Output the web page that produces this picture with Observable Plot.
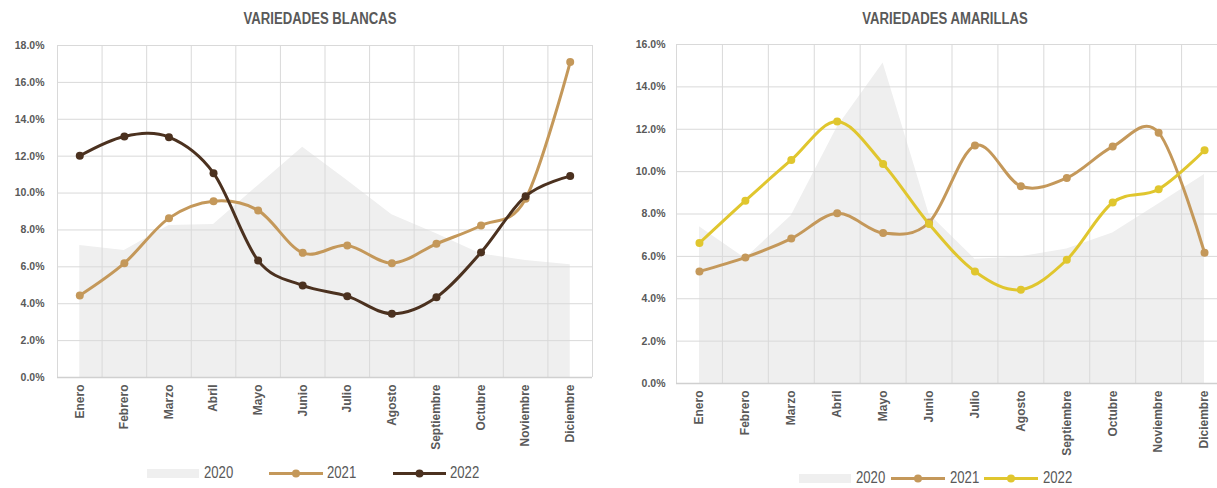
<!DOCTYPE html>
<html>
<head>
<meta charset="utf-8">
<script src="https://cdn.jsdelivr.net/npm/d3@7"></script>
<script src="https://cdn.jsdelivr.net/npm/@observablehq/plot@0.6"></script>
<style>
  html, body { margin: 0; padding: 0; background: #fff; }
  body { width: 1217px; height: 488px; overflow: hidden; position: relative;
         font-family: "Liberation Sans", Arial, sans-serif; color: #595959; }
  .chart { position: absolute; top: 0; }
  .chart svg { max-width: none !important; }
  .title { position: absolute; top: 10px; font-weight: bold; font-size: 16px; white-space: nowrap;
           transform: translateX(-50%) scaleX(0.82); }
  .leg { position: absolute; display: flex; align-items: center; font-size: 16px; white-space: nowrap; }
  .leg svg { display: block; }
  .leg span { display: inline-block; transform: scaleX(0.82); transform-origin: left center; }
</style>
</head>
<body>
<div id="left" class="chart" style="left:0px;width:600px"></div>
<div id="right" class="chart" style="left:610px;width:617px"></div>
<div class="title" style="left:320px">VARIEDADES BLANCAS</div>
<div class="title" style="left:945px">VARIEDADES AMARILLAS</div>
<div id="legL"></div>
<div id="legR"></div>
<script>
const months = ["Enero","Febrero","Marzo","Abril","Mayo","Junio","Julio","Agosto","Septiembre","Octubre","Noviembre","Diciembre"];
const years = ["2020","2021","2022"];

const blancas2020 = [7.16, 6.89, 8.24, 8.30, 10.40, 12.49, 10.68, 8.82, 7.79, 6.70, 6.34, 6.11];
const blancas2021 = [4.45, 6.20, 8.64, 9.56, 9.06, 6.76, 7.16, 6.20, 7.25, 8.24, 9.69, 17.10];
const blancas2022 = [12.02, 13.07, 13.03, 11.08, 6.34, 4.99, 4.41, 3.45, 4.35, 6.78, 9.83, 10.92];

const amarillas2020 = [7.40, 5.90, 7.92, 12.10, 15.13, 8.00, 5.87, 5.98, 6.35, 7.10, 8.47, 9.86];
const amarillas2021 = [5.29, 5.95, 6.84, 8.03, 7.10, 7.60, 11.23, 9.31, 9.70, 11.18, 11.84, 6.17];
const amarillas2022 = [6.63, 8.63, 10.55, 12.36, 10.36, 7.53, 5.29, 4.43, 5.84, 8.54, 9.17, 11.01];

const ticksBlancas = [0, 2, 4, 6, 8, 10, 12, 14, 16, 18];
const ticksAmarillas = [0, 2, 4, 6, 8, 10, 12, 14, 16];

const C2020 = "#efefef", C2021 = "#c4985a", CBrown = "#4b311f", CYellow = "#e0c62e";
const GRID = "#d9d9d9";
const FONT = '"Liberation Sans", Arial, sans-serif';

const rows = vals => vals.map((v, i) => ({i, v}));

function chart(o) {
  const idx = months.map((_, i) => i);
  return Plot.plot({
    width: o.width, height: 440,
    marginLeft: o.ml, marginRight: o.mr, marginTop: o.mt, marginBottom: o.mb,
    style: {fontFamily: FONT, color: "#595959", background: "transparent", overflow: "visible", maxWidth: "none"},
    x: {domain: [-0.5, 11.5], axis: null},
    y: {domain: [0, o.yMax], axis: null},
    marks: [
      Plot.areaY(rows(o.a), {x: "i", y: "v", fill: C2020}),
      Plot.ruleY(o.ticks, {stroke: GRID, strokeWidth: 1}),
      Plot.ruleX(d3.range(-0.5, 12, 1), {stroke: GRID, strokeWidth: 1}),
      Plot.ruleY([0], {stroke: "#d0d0d0", strokeWidth: 1.5}),
      Plot.axisY(o.ticks, {label: null, tickSize: 0, tickPadding: o.padY, tickFormat: d => d.toFixed(1) + "%", fontWeight: "bold", fontSize: 10.5}),
      Plot.axisX(idx, {label: null, tickSize: 0, tickRotate: -90, tickPadding: o.padX, tickFormat: i => months[i], fontWeight: "bold", fontSize: 12}),
      Plot.line(rows(o.b), {x: "i", y: "v", stroke: C2021, strokeWidth: 3, curve: "cardinal"}),
      Plot.dot(rows(o.b), {x: "i", y: "v", fill: C2021, r: 4}),
      Plot.line(rows(o.c), {x: "i", y: "v", stroke: o.c22, strokeWidth: 3, curve: "cardinal"}),
      Plot.dot(rows(o.c), {x: "i", y: "v", fill: o.c22, r: 4})
    ]
  });
}

document.getElementById("left").append(chart({
  width: 600, ml: 57, mr: 8, mt: 45, mb: 63, yMax: 18, ticks: ticksBlancas,
  a: blancas2020, b: blancas2021, c: blancas2022, c22: CBrown, padY: 13, padX: 7
}));
document.getElementById("right").append(chart({
  width: 617, ml: 66, mr: 0, mt: 44, mb: 57, yMax: 16, ticks: ticksAmarillas,
  a: amarillas2020, b: amarillas2021, c: amarillas2022, c22: CYellow, padY: 11, padX: 7
}));

function legend(el, top, items) {
  const host = document.getElementById(el);
  items.forEach(it => {
    const d = document.createElement("div");
    d.className = "leg";
    d.style.left = it.x + "px";
    d.style.top = top + "px";
    const w = it.w;
    let sw;
    if (it.type === "area") {
      sw = `<svg width="${w}" height="18"><rect x="0" y="5" width="${w}" height="9" fill="${it.color}"/></svg>`;
    } else {
      sw = `<svg width="${w}" height="18"><line x1="0" x2="${w}" y1="9.5" y2="9.5" stroke="${it.color}" stroke-width="3"/><circle cx="${w/2}" cy="9.5" r="4" fill="${it.color}"/></svg>`;
    }
    d.innerHTML = sw + `<span style="margin-left:${it.gap}px">${it.label}</span>`;
    host.append(d);
  });
}
legend("legL", 464, [
  {x: 147, w: 52, type: "area", color: C2020, label: years[0], gap: 5},
  {x: 269, w: 54, type: "line", color: C2021, label: years[1], gap: 4},
  {x: 393, w: 53, type: "line", color: CBrown, label: years[2], gap: 4}
]);
legend("legR", 469, [
  {x: 799, w: 52, type: "area", color: C2020, label: years[0], gap: 5},
  {x: 891, w: 54, type: "line", color: C2021, label: years[1], gap: 5},
  {x: 984, w: 54, type: "line", color: CYellow, label: years[2], gap: 5}
]);
</script>
</body>
</html>
